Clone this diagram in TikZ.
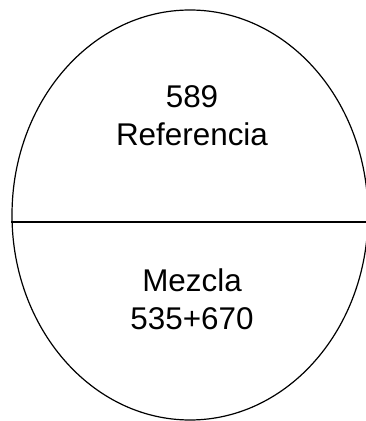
\documentclass[tikz,border=0pt]{standalone}
\usepackage{fontspec}
\setmainfont{Liberation Sans}
\usetikzlibrary{shapes.geometric}
\begin{document}
\begin{tikzpicture}[x=1pt, y=1pt,
    label/.style={anchor=base, inner sep=0pt, font=\fontsize{31.4}{38}\selectfont}]
    \useasboundingbox (0,0) rectangle (366,421);

    \node[draw, ellipse, line width=1.2pt, minimum width=356pt, minimum height=410pt, inner sep=0pt] (ell) at (190,206) {};

    \coordinate (cut) at (366,199);
    \draw[line width=1.4pt] ([yshift=-7pt]ell.west) -- (cut);

    \node[label] (num) at (192,313) {589};
    \node[label] (ref) at (192,275) {Referencia};
    \node[label] (mix) at (192,129) {Mezcla};
    \node[label] (mixnum) at (192,91) {535+670};

\end{tikzpicture}
\end{document}
